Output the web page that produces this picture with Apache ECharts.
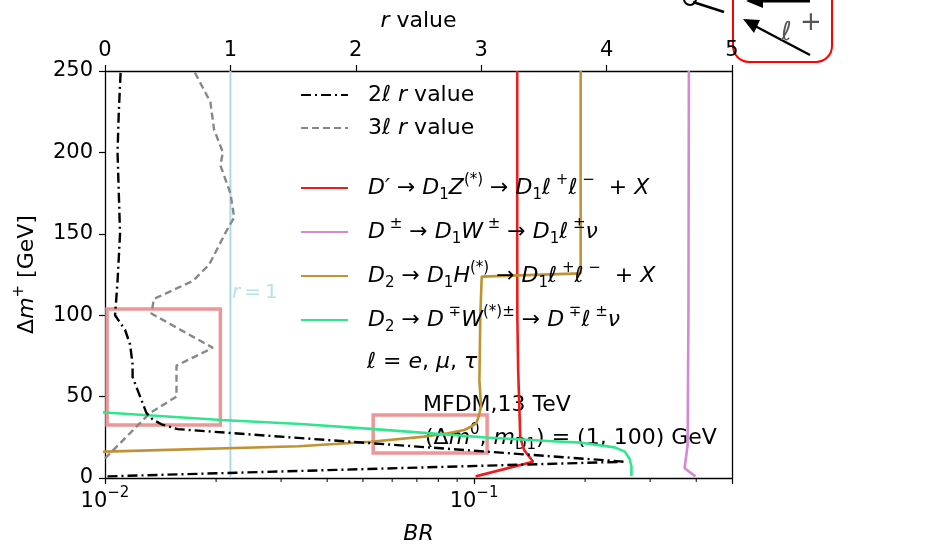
<!DOCTYPE html>
<html>
<head>
<meta charset="utf-8">
<script src="https://cdn.jsdelivr.net/npm/echarts@6/dist/echarts.min.js"></script>
<style>
  html, body { margin: 0; padding: 0; background: #fff; }
  #chart { width: 933px; height: 547px; }
</style>
</head>
<body>
<div id="chart"></div>
<script>
// ---- r-value curves (top axis, linear r) ----
const twoLepDm = [1, 10, 30, 33, 36, 40, 46, 54, 62, 70, 82, 91, 100, 110, 121, 150, 175, 200, 225, 250];
const twoLepR  = [0.02, 4.15, 0.58, 0.45, 0.38, 0.33, 0.30, 0.26, 0.22, 0.22, 0.20, 0.16, 0.08, 0.09, 0.10, 0.12, 0.11, 0.10, 0.11, 0.125];

const threeLepDm = [12, 40, 50, 69, 80, 101, 110, 121, 131, 152, 160, 175, 192, 200, 214, 231, 250];
const threeLepR  = [0.0, 0.36, 0.57, 0.57, 0.86, 0.37, 0.39, 0.70, 0.83, 0.97, 1.03, 1.00, 0.92, 0.94, 0.87, 0.84, 0.71];

const unitR = [1, 1];
const unitDm = [0, 250];

// ---- branching ratios (bottom axis, log BR) ----
const zDm  = [1, 10, 17, 25, 40, 66, 100, 150, 250];
const zBR  = [0.101, 0.1446, 0.1368, 0.1334, 0.1328, 0.1317, 0.1310, 0.1309, 0.1309];

const wDm  = [1, 6, 20, 100, 250];
const wBR  = [0.398, 0.372, 0.379, 0.381, 0.382];

const hDm  = [15, 16.2, 19.5, 22.3, 25.4, 27.5, 29.5, 31.5, 33.6, 36.5, 40, 44, 60, 100, 123.7, 125.7, 250];
const hBR  = [0.0075, 0.01, 0.0335, 0.0525, 0.0733, 0.085, 0.0941, 0.098, 0.1013, 0.1025, 0.1035, 0.1045, 0.1034, 0.1040, 0.1049, 0.1945, 0.1945];

const wsDm = [1, 7, 11.7, 16.2, 18.8, 21.7, 22.7, 24.9, 30.2, 33.2, 35.6, 40.2, 42];
const wsBR = [0.267, 0.267, 0.264, 0.2561, 0.2405, 0.195, 0.1586, 0.108, 0.0525, 0.0339, 0.0207, 0.01, 0.0085];

// ---- axis ticks ----
const rTicks = [0, 1, 2, 3, 4, 5];
const dmTicks = [0, 50, 100, 150, 200, 250];
const brMinorTicks = [0.02, 0.03, 0.04, 0.05, 0.06, 0.07, 0.08, 0.09, 0.2, 0.3, 0.4];

// ---- highlighted regions [BR range, Δm range] ----
const boxBR = [[0.01013, 0.02054], [0.0533, 0.1085]];
const boxDm = [[32.6, 103.8], [15.4, 38.7]];

const FONT = 'DejaVu Sans';
const pairs = (xs, ys) => xs.map((x, i) => [x, ys[i]]);

// rich-text styles for option text (legend, axis names)
const rich = {
  n:   { fontFamily: FONT, fontSize: 22, color: '#000', lineHeight: 30, verticalAlign: 'middle' },
  m:   { fontFamily: FONT, fontSize: 22, color: '#000', fontStyle: 'italic', lineHeight: 30, verticalAlign: 'middle' },
  sup: { fontFamily: FONT, fontSize: 15, color: '#000', lineHeight: 14, verticalAlign: 'top' },
  sub: { fontFamily: FONT, fontSize: 15, color: '#000', lineHeight: 16, verticalAlign: 'bottom' }
};
// same styles for graphic text elements
const richG = {
  n:   { fontFamily: FONT, fontSize: 22, fill: '#000', lineHeight: 30, verticalAlign: 'middle' },
  m:   { fontFamily: FONT, fontSize: 22, fill: '#000', fontStyle: 'italic', lineHeight: 30, verticalAlign: 'middle' },
  sup: { fontFamily: FONT, fontSize: 15, fill: '#000', lineHeight: 14, verticalAlign: 'top' },
  sub: { fontFamily: FONT, fontSize: 15, fill: '#000', lineHeight: 16, verticalAlign: 'bottom' }
};

const legendText = {
  '2ℓ r value': '{n|2}{m|ℓ r}{n| value}',
  '3ℓ r value': '{n|3}{m|ℓ r}{n| value}',
  "D'→D1Z(*)→D1ℓ+ℓ- + X": '{m|D′}{n| → }{m|D}{sub|1}{m|Z}{sup|(*)}{n| → }{m|D}{sub|1}{m|ℓ}{sup| +}{m|ℓ}{sup| −}{n|  + }{m|X}',
  'D±→D1W±→D1ℓ±ν': '{m|D}{sup| ±}{n| → }{m|D}{sub|1}{m|W}{sup| ±}{n| → }{m|D}{sub|1}{m|ℓ}{sup| ±}{m|ν}',
  'D2→D1H(*)→D1ℓ+ℓ- + X': '{m|D}{sub|2}{n| → }{m|D}{sub|1}{m|H}{sup|(*)}{n| → }{m|D}{sub|1}{m|ℓ}{sup| +}{m|ℓ}{sup| −}{n|  + }{m|X}',
  'D2→D∓W(*)±→D∓ℓ±ν': '{m|D}{sub|2}{n| → }{m|D}{sup| ∓}{m|W}{sup|(*)±}{n| → }{m|D}{sup| ∓}{m|ℓ}{sup| ±}{m|ν}'
};

const lineSeries = (name, data, color, axis, extra) => Object.assign({
  name, type: 'line', data, xAxisIndex: axis, yAxisIndex: 0,
  symbol: 'none', smooth: false, animation: false,
  lineStyle: { color, width: 2.6 }, itemStyle: { color }
}, extra || {});

const chart = echarts.init(document.getElementById('chart'), null, { renderer: 'canvas' });

const legendBase = {
  orient: 'vertical', left: 300, padding: 0,
  itemWidth: 47, itemHeight: 14,
  formatter: name => legendText[name],
  textStyle: { rich, padding: [0, 0, 0, 15] },
  itemStyle: { opacity: 0 },
  selectedMode: false
};

const option = {
  animation: false,
  backgroundColor: '#fff',
  grid: { left: 105, right: 201, top: 71, bottom: 69, containLabel: false, outerBoundsMode: 'none' },
  xAxis: [
    {
      type: 'log', logBase: 10, min: 0.01, max: 0.5, position: 'bottom',
      name: 'BR', nameLocation: 'middle', nameGap: 45,
      nameTextStyle: { fontFamily: FONT, fontSize: 22, fontStyle: 'italic', color: '#000' },
      axisLine: { show: true, onZero: false, lineStyle: { color: '#000', width: 1.3 } },
      axisTick: { show: true, length: 6, lineStyle: { color: '#000', width: 1.2 } },
      axisLabel: {
        margin: 8, color: '#000', fontFamily: FONT, fontSize: 21,
        formatter: v => {
          const e = Math.log10(v);
          if (Math.abs(e - Math.round(e)) > 1e-6) return '';
          return '{b|10}{s|−' + Math.abs(Math.round(e)) + '}';
        },
        rich: {
          b: { fontFamily: FONT, fontSize: 21, color: '#000', lineHeight: 26, verticalAlign: 'bottom' },
          s: { fontFamily: FONT, fontSize: 15, color: '#000', lineHeight: 14, verticalAlign: 'top' }
        }
      },
      splitLine: { show: false }
    },
    {
      type: 'value', min: 0, max: 5, interval: 1, position: 'top',
      name: '{m|r}{n| value}', nameLocation: 'middle', nameGap: 35,
      nameTextStyle: { rich },
      axisLine: { show: true, onZero: false, lineStyle: { color: '#000', width: 1.3 } },
      axisTick: { show: true, length: 6, lineStyle: { color: '#000', width: 1.2 } },
      axisLabel: { margin: 10, color: '#000', fontFamily: FONT, fontSize: 21,
                   customValues: rTicks },
      splitLine: { show: false }
    }
  ],
  yAxis: [
    {
      type: 'value', min: 0, max: 250, interval: 50, position: 'left',
      name: '{n|Δ}{m|m}{sup|+}{n| [GeV]}', nameLocation: 'middle', nameGap: 63, nameRotate: 90,
      nameTextStyle: { rich },
      axisLine: { show: true, onZero: false, lineStyle: { color: '#000', width: 1.3 } },
      axisTick: { show: true, length: 6, lineStyle: { color: '#000', width: 1.2 } },
      axisLabel: { margin: 12, color: '#000', fontFamily: FONT, fontSize: 21, customValues: dmTicks },
      splitLine: { show: false }
    },
    {
      type: 'value', min: 0, max: 250, position: 'right',
      axisLine: { show: true, onZero: false, lineStyle: { color: '#000', width: 1.3 } },
      axisTick: { show: false }, axisLabel: { show: false }, splitLine: { show: false }
    }
  ],
  legend: [
    Object.assign({}, legendBase, {
      data: ['2ℓ r value', '3ℓ r value'], top: 84, itemGap: 11
    }),
    Object.assign({}, legendBase, {
      data: ["D'→D1Z(*)→D1ℓ+ℓ- + X", 'D±→D1W±→D1ℓ±ν', 'D2→D1H(*)→D1ℓ+ℓ- + X', 'D2→D∓W(*)±→D∓ℓ±ν'],
      top: 173, itemGap: 14
    })
  ],
  series: [
    lineSeries('r1', pairs(unitR, unitDm), '#a9dcdc', 1, { z: 1, lineStyle: { color: '#a9dcdc', width: 2 } }),
    lineSeries('highlight', [], '#ec9797', 0, {
      z: 1,
      markArea: {
        silent: true,
        itemStyle: { color: 'rgba(0,0,0,0)', borderColor: '#ec9797', borderWidth: 3.5 },
        data: boxBR.map((b, i) => [{ coord: [b[0], boxDm[i][0]] }, { coord: [b[1], boxDm[i][1]] }])
      }
    }),
    lineSeries("D'→D1Z(*)→D1ℓ+ℓ- + X", pairs(zBR, zDm), '#ee1c1c', 0, { z: 3 }),
    lineSeries('D±→D1W±→D1ℓ±ν', pairs(wBR, wDm), '#d688d8', 0, { z: 3 }),
    lineSeries('D2→D1H(*)→D1ℓ+ℓ- + X', pairs(hBR, hDm), '#bf9232', 0, { z: 3 }),
    lineSeries('D2→D∓W(*)±→D∓ℓ±ν', pairs(wsBR, wsDm), '#2fe68e', 0, { z: 3 }),
    lineSeries('3ℓ r value', pairs(threeLepR, threeLepDm), '#888888', 1,
      { z: 4, lineStyle: { color: '#888888', width: 2.4, type: [7, 4] } }),
    lineSeries('2ℓ r value', pairs(twoLepR, twoLepDm), '#000000', 1,
      { z: 5, lineStyle: { color: '#000000', width: 2.4, type: [10, 4, 2, 4] } }),
    {
      // minor ticks of the logarithmic BR axis
      name: 'brMinor', type: 'custom', xAxisIndex: 0, yAxisIndex: 0, clip: false, silent: true,
      data: brMinorTicks.map(v => [v, 0]),
      renderItem: (params, api) => {
        const p = api.coord([api.value(0), api.value(1)]);
        return { type: 'line', shape: { x1: p[0], y1: p[1], x2: p[0], y2: p[1] + 4 },
                 style: { stroke: '#000', lineWidth: 1 } };
      }
    }
  ],
  graphic: [
    { type: 'text', left: 232, top: 283, silent: true,
      style: { text: '{m|r}{n|\u2009=\u20091}', rich: {
        m: { fontFamily: FONT, fontSize: 20, fontStyle: 'italic', fill: '#b9e2e2' },
        n: { fontFamily: FONT, fontSize: 20, fill: '#b9e2e2' } } } },
    { type: 'text', left: 367, top: 351, silent: true,
      style: { text: '{m|ℓ}{n| = }{m|e}{n|, }{m|μ}{n|, }{m|τ}', rich: richG } },
    { type: 'text', left: 423, top: 394, silent: true,
      style: { text: 'MFDM,13 TeV', fontFamily: FONT, fontSize: 22, fill: '#000' } },
    { type: 'text', left: 425, top: 423, silent: true,
      style: { text: '{n|(Δ}{m|m}{sup|0}{n|, }{m|m}{sub|D1}{n|) = (1, 100) GeV}', rich: richG } },
    // fragment of a diagram in the upper right corner
    { type: 'rect', silent: true, shape: { x: 733, y: -30, width: 99, height: 92, r: 16 },
      style: { fill: 'none', stroke: '#ff0000', lineWidth: 2 } },
    { type: 'line', silent: true, shape: { x1: 810, y1: 55, x2: 755, y2: 26 },
      style: { stroke: '#000', lineWidth: 2.5 } },
    { type: 'polygon', silent: true, shape: { points: [[743, 19], [760, 20], [754, 33]] },
      style: { fill: '#000' } },
    { type: 'line', silent: true, shape: { x1: 758, y1: 1, x2: 810, y2: 1 },
      style: { stroke: '#000', lineWidth: 3 } },
    { type: 'polygon', silent: true, shape: { points: [[746, 1], [763, -6], [763, 8]] },
      style: { fill: '#000' } },
    { type: 'line', silent: true, shape: { x1: 693, y1: 2, x2: 724, y2: 12 },
      style: { stroke: '#000', lineWidth: 2.5 } },
    { type: 'arc', silent: true, shape: { cx: 690, cy: -1, r: 6, startAngle: 0, endAngle: Math.PI },
      style: { fill: 'none', stroke: '#000', lineWidth: 2 } },
    { type: 'text', left: 781, top: 20, silent: true,
      style: { text: 'ℓ', fontFamily: FONT, fontSize: 26, fontStyle: 'italic', fill: '#555' } },
    { type: 'text', left: 800, top: 10, silent: true,
      style: { text: '+', fontFamily: FONT, fontSize: 26, fill: '#555' } }
  ]
};

chart.setOption(option);
</script>
</body>
</html>
